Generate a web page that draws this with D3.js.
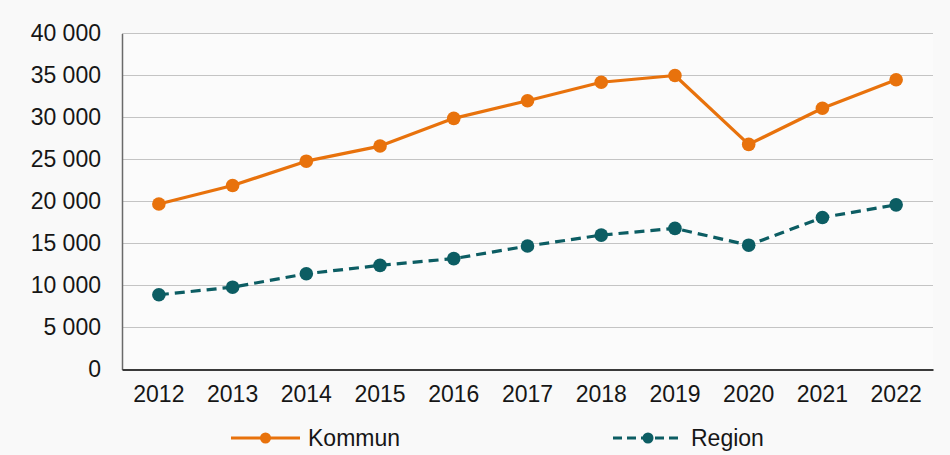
<!DOCTYPE html>
<html>
<head>
<meta charset="utf-8">
<script src="https://cdn.jsdelivr.net/npm/d3@7"></script>
<style>
  html, body { margin: 0; padding: 0; background: #f9f9f9; }
  svg { display: block; }
  text { font-family: "Liberation Sans", Arial, sans-serif; fill: #161616; }
</style>
</head>
<body>
<svg id="chart" width="950" height="455"></svg>
<script>
// Years on the x axis
const years = ["2012", "2013", "2014", "2015", "2016", "2017", "2018", "2019", "2020", "2021", "2022"];
// Series values
const kommun = [19700, 21900, 24800, 26600, 29900, 32000, 34200, 35000, 26800, 31100, 34500];
const region = [8900, 9800, 11400, 12400, 13200, 14700, 16000, 16800, 14800, 18100, 19600];
// Y axis ticks
const yTicks = [0, 5000, 10000, 15000, 20000, 25000, 30000, 35000, 40000];

const seriesNames = ["Kommun", "Region"];
const colors = { Kommun: "#e8720c", Region: "#0c5d63" };

const svg = d3.select("#chart");
const margin = { left: 122, right: 17, top: 33.5, bottom: 85.5 };
const W = 950, H = 455;

const x = d3.scaleBand().domain(years).range([margin.left, W - margin.right]);
const y = d3.scaleLinear().domain([0, 40000]).range([H - margin.bottom, margin.top]);

const fmt = d3.formatLocale({ decimal: ",", thousands: "\u00a0", grouping: [3], currency: ["", " kr"] }).format(",d");

// plot area
svg.append("rect")
  .attr("x", margin.left).attr("y", margin.top)
  .attr("width", W - margin.left - margin.right)
  .attr("height", H - margin.top - margin.bottom)
  .attr("fill", "#fbfbfb");

// horizontal gridlines
svg.append("g")
  .selectAll("line")
  .data(yTicks.filter(d => d > 0))
  .join("line")
  .attr("x1", margin.left).attr("x2", W - margin.right)
  .attr("y1", d => y(d)).attr("y2", d => y(d))
  .attr("stroke", "#c4c4c4").attr("stroke-width", 1.2);

// y axis
const yAxis = svg.append("g")
  .attr("transform", `translate(${margin.left},0)`)
  .call(d3.axisLeft(y).tickValues(yTicks).tickFormat(fmt).tickSize(0).tickPadding(21));
yAxis.select(".domain").attr("stroke", "#6a6a6a").attr("stroke-width", 1.5);
yAxis.selectAll("text").style("font-size", "23px").attr("fill", "#161616")
  .style("font-family", "'Liberation Sans', Arial, sans-serif");

// x axis
const xAxis = svg.append("g")
  .attr("transform", `translate(0,${y(0)})`)
  .call(d3.axisBottom(x).tickSize(0).tickPadding(16));
xAxis.select(".domain").attr("stroke", "#3a3a3a").attr("stroke-width", 1.8);
xAxis.selectAll("text").style("font-size", "23px").attr("fill", "#161616")
  .style("font-family", "'Liberation Sans', Arial, sans-serif");

const cx = d => x(d) + x.bandwidth() / 2;

function drawSeries(name, values, dash) {
  const pts = years.map((yr, i) => [yr, values[i]]);
  const line = d3.line().x(d => cx(d[0])).y(d => y(d[1]));
  svg.append("path")
    .datum(pts)
    .attr("d", line)
    .attr("fill", "none")
    .attr("stroke", colors[name])
    .attr("stroke-width", 3.2)
    .attr("stroke-dasharray", dash || null)
    .attr("stroke-linejoin", "round");
  svg.append("g")
    .selectAll("circle")
    .data(pts)
    .join("circle")
    .attr("cx", d => cx(d[0]))
    .attr("cy", d => y(d[1]))
    .attr("r", 6.8)
    .attr("fill", colors[name]);
}

drawSeries("Kommun", kommun, null);
drawSeries("Region", region, "10,6");

// legend
const legendY = 438;
const legendItems = [
  { name: "Kommun", x0: 231, x1: 300, dash: null },
  { name: "Region", x0: 613, x1: 683, dash: "9,5" }
];
legendItems.forEach(it => {
  const g = svg.append("g");
  g.append("line")
    .attr("x1", it.x0).attr("x2", it.x1)
    .attr("y1", legendY).attr("y2", legendY)
    .attr("stroke", colors[it.name]).attr("stroke-width", 3.2)
    .attr("stroke-dasharray", it.dash);
  g.append("circle")
    .attr("cx", (it.x0 + it.x1) / 2).attr("cy", legendY).attr("r", 5.5)
    .attr("fill", colors[it.name]);
  g.append("text")
    .attr("x", it.x1 + 8).attr("y", legendY + 8)
    .style("font-size", "23px")
    .text(it.name);
});
</script>
</body>
</html>
